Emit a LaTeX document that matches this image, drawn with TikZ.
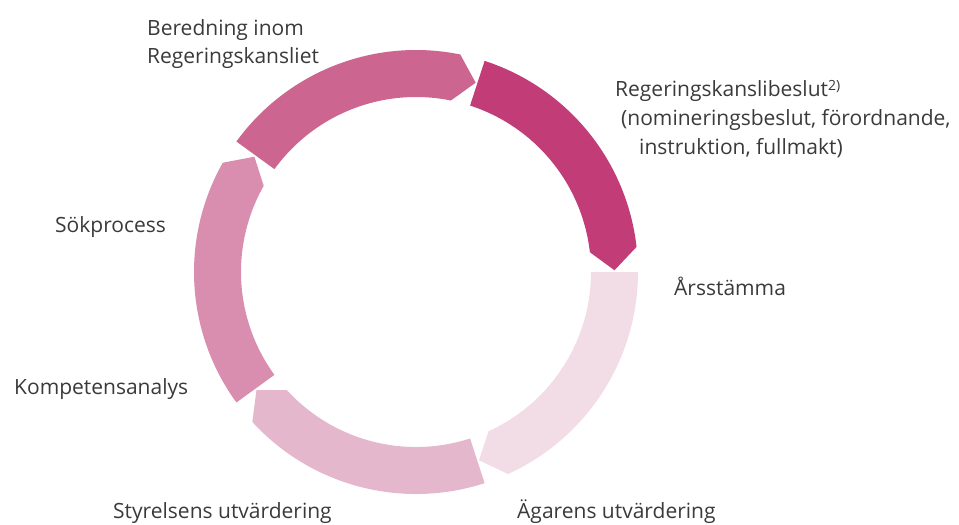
\documentclass[tikz,border=0pt]{standalone}
\usepackage{fontspec}
\setmainfont{Open Sans}
\usetikzlibrary{positioning}

\definecolor{beredningPink}{HTML}{CC6690}
\definecolor{beslutPink}{HTML}{C23C78}
\definecolor{stammaPink}{HTML}{F2DCE6}
\definecolor{styrelsePink}{HTML}{E5B7CC}
\definecolor{sokPink}{HTML}{D98EB0}
\definecolor{labelGray}{HTML}{3A3A3A}

% one ring arrow: start angle, colour
\newcommand{\cyclearrow}[2]{%
  \fill[#2] (#1:222pt) arc[start angle=#1, end angle=#1-65.5, radius=222pt]
    -- (#1-71.5:198.5pt) -- (#1-65.5:175pt)
    arc[start angle=#1-65.5, end angle=#1, radius=175pt] -- cycle;}

\begin{document}
\begin{tikzpicture}
[ x=1pt, y=1pt,
		steplabel/.style={anchor=base west,inner sep=0pt,text=labelGray,font=\fontsize{21}{28}\selectfont}]
	\useasboundingbox (0,0) rectangle (959,-525);

	\begin{scope}[shift={(416,-272)}]
		\cyclearrow{144}{beredningPink}
		\cyclearrow{72}{beslutPink}
		\cyclearrow{0}{stammaPink}
		\cyclearrow{-72}{styrelsePink}
		\cyclearrow{-144}{sokPink}
	\end{scope}

	\node[steplabel] (beredning) at (147,-35) {Beredning inom};
	\node[steplabel] (kansliet) at (147,-63) {Regeringskansliet};
	\node[steplabel] (beslut) at (615,-96) {Regeringskanslibeslut\raisebox{6pt}{\fontsize{14}{14}\selectfont 2)}};
	\node[steplabel] (nominering) at (621,-125) {(nomineringsbeslut, förordnande,};
	\node[steplabel] (instruktion) at (639,-154) {instruktion, fullmakt)};
	\node[steplabel] (stamma) at (674,-295) {Årsstämma};
	\node[steplabel] (agare) at (517,-518) {Ägarens utvärdering};
	\node[steplabel] (styrelse) at (113,-518) {Styrelsens utvärdering};
	\node[steplabel] (kompetens) at (14,-394) {Kompetensanalys};
	\node[steplabel] (sok) at (55,-232) {Sökprocess};
\end{tikzpicture}
\end{document}
